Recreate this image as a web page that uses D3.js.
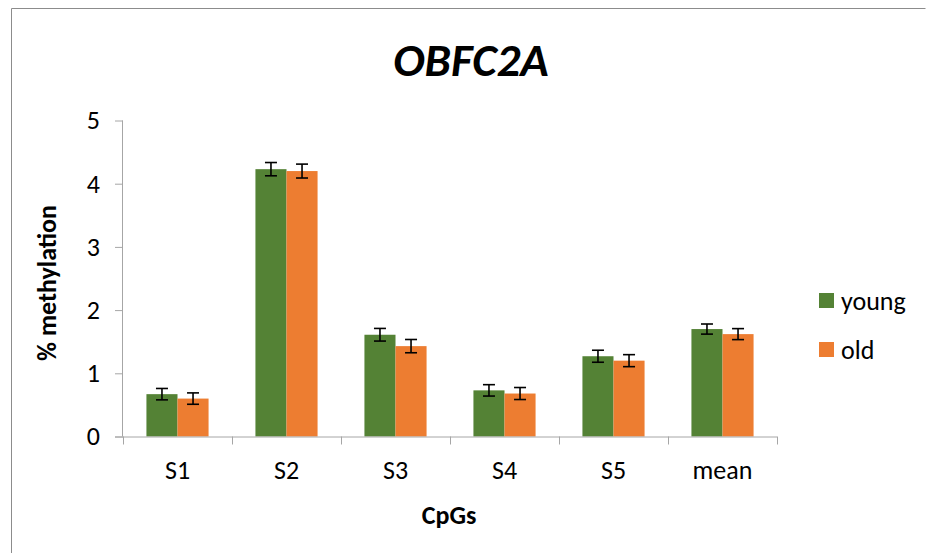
<!DOCTYPE html>
<html>
<head>
<meta charset="utf-8">
<script src="https://cdn.jsdelivr.net/npm/d3@7"></script>
<style>
  html, body { margin: 0; padding: 0; background: #fff; }
  svg { display: block; font-family: Carlito, Lato, "Open Sans", sans-serif; }
</style>
</head>
<body>
<svg id="chart" width="931" height="553"></svg>
<script>
// CpG sites along the x axis
const categories = ["S1", "S2", "S3", "S4", "S5", "mean"];
const seriesNames = ["young", "old"];
// % methylation per site
const youngValues = [0.67, 4.23, 1.61, 0.73, 1.27, 1.70];
const oldValues   = [0.60, 4.20, 1.43, 0.68, 1.20, 1.62];
// error bar half-widths
const youngErrors = [0.09, 0.105, 0.10, 0.09, 0.095, 0.08];
const oldErrors   = [0.09, 0.11, 0.105, 0.095, 0.095, 0.087];
const yTicks = [0, 1, 2, 3, 4, 5];
const colors = ["#548235", "#ED7D31"];

const FONT = "Carlito, Lato, sans-serif";
const svg = d3.select("#chart");

// outer frame
svg.append("path")
  .attr("d", "M11.5,553 V8.5 H925.5")
  .attr("fill", "none").attr("stroke", "#8c8c8c").attr("stroke-width", 1);

const plot = { left: 123, right: 777, top: 120.5, bottom: 436.5 };

const x = d3.scaleBand().domain(categories).range([plot.left, plot.right]).paddingInner(0).paddingOuter(0);
const y = d3.scaleLinear().domain([0, 5]).range([plot.bottom, plot.top]);
const groupW = x.bandwidth() * 0.57;
const xs = d3.scaleBand().domain(seriesNames).range([0, groupW]);

const rows = categories.map((c, i) => ({
  cat: c,
  vals: [
    { s: "young", v: youngValues[i], e: youngErrors[i], k: 0 },
    { s: "old", v: oldValues[i], e: oldErrors[i], k: 1 }
  ]
}));

// bars
const g = svg.append("g").selectAll("g").data(rows).join("g")
  .attr("transform", d => `translate(${x(d.cat) + (x.bandwidth() - groupW) / 2},0)`);

g.selectAll("rect").data(d => d.vals).join("rect")
  .attr("x", d => xs(d.s))
  .attr("width", xs.bandwidth())
  .attr("y", d => y(d.v))
  .attr("height", d => y(0) - y(d.v))
  .attr("fill", d => colors[d.k]);

// error bars
const eb = g.selectAll("g.err").data(d => d.vals).join("g").attr("class", "err")
  .attr("stroke", "#000").attr("stroke-width", 1.6);
const cx = d => xs(d.s) + xs.bandwidth() / 2;
eb.append("line").attr("x1", cx).attr("x2", cx)
  .attr("y1", d => y(d.v + d.e)).attr("y2", d => y(d.v - d.e));
eb.append("line").attr("x1", d => cx(d) - 6).attr("x2", d => cx(d) + 6)
  .attr("y1", d => y(d.v + d.e)).attr("y2", d => y(d.v + d.e));
eb.append("line").attr("x1", d => cx(d) - 6).attr("x2", d => cx(d) + 6)
  .attr("y1", d => y(d.v - d.e)).attr("y2", d => y(d.v - d.e));

// y axis
const yAxis = svg.append("g").attr("transform", `translate(${plot.left},0)`)
  .call(d3.axisLeft(y).tickValues(yTicks).tickSize(8).tickPadding(15).tickFormat(d3.format("d")));
yAxis.select(".domain").attr("stroke", "#a6a6a6").attr("d", `M-0.5,${plot.top}V${plot.bottom}`);
yAxis.selectAll(".tick line").attr("stroke", "#a6a6a6");
yAxis.selectAll("text").attr("font-size", 26).attr("fill", "#000").attr("font-family", FONT);

// x axis with boundary ticks
const xAxis = svg.append("g").attr("transform", `translate(0,${plot.bottom})`)
  .call(d3.axisBottom(x).tickSize(0));
xAxis.select(".domain").attr("stroke", "#a6a6a6").attr("d", `M${plot.left - 8},0.5H${plot.right}`);
xAxis.selectAll("text").attr("font-size", 26).attr("fill", "#000").attr("font-family", FONT)
  .attr("y", 42).attr("dy", null);
xAxis.selectAll("line.bound").data(categories.map(c => x(c)).concat([plot.right])).join("line")
  .attr("class", "bound")
  .attr("x1", d => d + 0.5).attr("x2", d => d + 0.5)
  .attr("y1", 0).attr("y2", 8).attr("stroke", "#a6a6a6");

// titles
svg.append("text").attr("x", 471).attr("y", 76).attr("text-anchor", "middle")
  .attr("font-size", 47).attr("font-weight", "bold").attr("font-style", "italic")
  .text("OBFC2A");
svg.append("text").attr("x", 449).attr("y", 524).attr("text-anchor", "middle")
  .attr("font-size", 26).attr("font-weight", "bold").text("CpGs");
svg.append("text").attr("transform", "translate(56,283) rotate(-90)").attr("text-anchor", "middle")
  .attr("font-size", 26).attr("font-weight", "bold").text("% methylation");

// legend
const leg = svg.append("g").selectAll("g").data(seriesNames).join("g")
  .attr("transform", (d, i) => `translate(819,${293 + i * 49})`);
leg.append("rect").attr("width", 15).attr("height", 15).attr("fill", (d, i) => colors[i]);
leg.append("text").attr("x", 22).attr("y", 17).attr("font-size", 26).text(d => d);
</script>
</body>
</html>
